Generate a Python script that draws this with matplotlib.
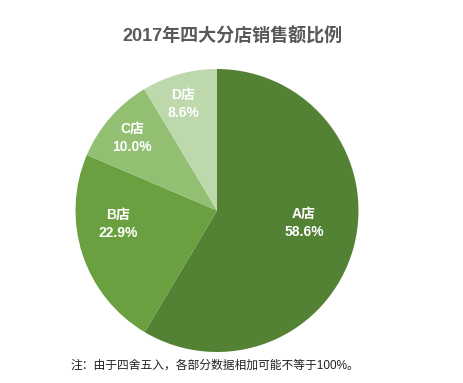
import matplotlib.pyplot as plt

plt.rcParams['font.family'] = ['Liberation Sans', 'Noto Sans CJK SC', 'DejaVu Sans']

stores = ['A店', 'B店', 'C店', 'D店']
share = [58.6, 22.9, 10.0, 8.6]
colors = ['#548235', '#6aa040', '#93bf72', '#bdd8ab']
# label centres in axes data units (Excel style best-fit placement)
label_xy = [(0.615, -0.088), (-0.70, -0.095), (-0.60, 0.512), (-0.24, 0.753)]

fig = plt.figure(figsize=(4.63, 3.83), dpi=100)
ax = fig.add_axes([75.5 / 463, 31 / 383, 283 / 463, 283 / 383])
ax.pie(share, colors=colors, startangle=90, counterclock=False,
       wedgeprops=dict(linewidth=0))
ax.set_xlim(-1, 1)
ax.set_ylim(-1, 1)
ax.set_aspect('equal')
ax.axis('off')

for name, v, (x, y) in zip(stores, share, label_xy):
    ax.text(x, y, f'{name}\n{v:.1f}%', ha='center', va='center', color='white',
            fontsize=10, fontweight='bold', linespacing=1.35)

fig.text(232 / 463, 1 - 36 / 383, '2017年四大分店销售额比例', ha='center', va='center',
         fontsize=13, fontweight='bold', color='#595959')
fig.text(70 / 463, 1 - 366 / 383, '注：由于四舍五入，各部分数据相加可能不等于100%。',
         ha='left', va='center', fontsize=8.5, color='#222222')

fig.savefig('out.png', dpi=100)
